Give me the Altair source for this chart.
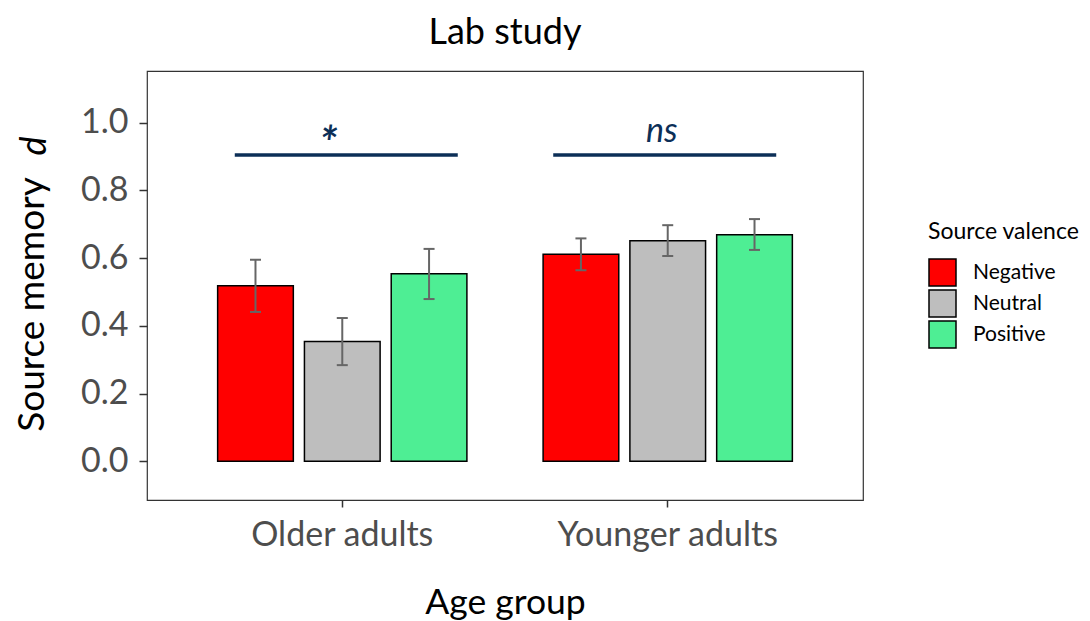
import altair as alt
import pandas as pd

FONT = "Lato"

# ---- data ----
groups = ["Older adults", "Older adults", "Older adults",
          "Younger adults", "Younger adults", "Younger adults"]
valences = ["Negative", "Neutral", "Positive", "Negative", "Neutral", "Positive"]
means = [0.518, 0.354, 0.554, 0.611, 0.651, 0.669]
lowers = [0.441, 0.284, 0.479, 0.564, 0.606, 0.624]
uppers = [0.595, 0.423, 0.627, 0.658, 0.697, 0.715]

group_order = ["Older adults", "Younger adults"]
valence_order = ["Negative", "Neutral", "Positive"]
valence_colors = ["#FF0000", "#BEBEBE", "#4EEE94"]

sig_groups = ["Older adults", "Younger adults"]
sig_labels = ["*", "ns"]
sig_line_y = [0.904, 0.904]
sig_text_y = [0.972, 0.972]

y_ticks = [0.0, 0.2, 0.4, 0.6, 0.8, 1.0]
y_domain = [-0.114, 1.152]
y_title_extra = ["d"]
chart_title = ["Lab study"]

NAVY = "#0C2F57"
ERR = "#666666"

df = pd.DataFrame({"group": groups, "valence": valences, "mean": means,
                   "lower": lowers, "upper": uppers})
sig_df = pd.DataFrame({"group": sig_groups, "label": sig_labels,
                       "line_y": sig_line_y, "text_y": sig_text_y})

X = alt.X("group:N",
          scale=alt.Scale(domain=group_order, paddingInner=0.2, paddingOuter=0.2),
          axis=alt.Axis(title="Age group", titleFontSize=35.5, titleFont=FONT,
                        titleFontWeight="normal", titleColor="black",
                        titleBaseline="alphabetic", titleY=113,
                        labelFontSize=34, labelFont=FONT, labelColor="#4D4D4D",
                        labelAngle=0, labelBaseline="alphabetic", labelPadding=38,
                        labelLimit=400,
                        tickSize=7, tickWidth=1.5, tickColor="#333333",
                        domain=False, grid=False))
XO = alt.XOffset("valence:N",
                 scale=alt.Scale(domain=valence_order, paddingInner=0.128, paddingOuter=0.064))
Y_SCALE = alt.Scale(domain=y_domain, nice=False, zero=False)

bars = alt.Chart(df).mark_bar(stroke="black", strokeWidth=1.5).encode(
    x=X,
    xOffset=XO,
    y=alt.Y("mean:Q", scale=Y_SCALE,
            axis=alt.Axis(values=y_ticks, format=".1f", title="Source memory",
                          titleFontSize=37, titleFont=FONT, titleFontWeight="normal",
                          titleColor="black", titleAngle=270, titleX=-104, titleY=233,
                          titleAlign="center", titleBaseline="alphabetic",
                          labelFontSize=34, labelFont=FONT, labelColor="#4D4D4D",
                          labelPadding=11, tickSize=8, tickWidth=1.5,
                          tickColor="#333333", domain=False, grid=False)),
    y2=alt.datum(0),
    color=alt.Color("valence:N",
                    scale=alt.Scale(domain=valence_order, range=valence_colors),
                    legend=alt.Legend(orient="none", legendX=781, legendY=150,
                                      title="Source valence", titleFontSize=23,
                                      titleFont=FONT, titleFontWeight="normal",
                                      titleColor="black", titlePadding=14,
                                      labelFontSize=21, labelFont=FONT,
                                      labelColor="black", labelOffset=16,
                                      symbolType="square", symbolSize=729,
                                      symbolStrokeColor="black", symbolStrokeWidth=1.5,
                                      symbolOpacity=1, rowPadding=-9, padding=0)),
)

err = alt.Chart(df).mark_rule(color=ERR, strokeWidth=2).encode(
    x=X, xOffset=XO, y=alt.Y("lower:Q", scale=Y_SCALE), y2="upper:Q")
cap_hi = alt.Chart(df).mark_tick(color=ERR, thickness=2, size=11, opacity=1,
                                 orient="horizontal").encode(
    x=X, xOffset=XO, y=alt.Y("upper:Q", scale=Y_SCALE))
cap_lo = alt.Chart(df).mark_tick(color=ERR, thickness=2, size=11, opacity=1,
                                 orient="horizontal").encode(
    x=X, xOffset=XO, y=alt.Y("lower:Q", scale=Y_SCALE))

layers = [bars, err, cap_hi, cap_lo]

line_dx = {"Older adults": 4, "Younger adults": -3}
text_dx = {"Older adults": -14, "Younger adults": -6}
text_dy = {"Older adults": 13, "Younger adults": 0}
text_size = {"Older adults": 46, "Younger adults": 34}
for g in sig_groups:
    base = alt.Chart(sig_df).transform_filter(alt.datum.group == g)
    layers.append(base.mark_tick(orient="horizontal", size=223, thickness=3.5,
                                 opacity=1, color=NAVY, xOffset=line_dx[g]).encode(
        x=X, y=alt.Y("line_y:Q", scale=Y_SCALE)))
    layers.append(base.mark_text(font=FONT, fontStyle="italic", fontSize=text_size[g],
                                 fontWeight="bold" if g == "Older adults" else "normal",
                                 color=NAVY, dx=text_dx[g], dy=text_dy[g],
                                 baseline="middle", align="center").encode(
        x=X, y=alt.Y("text_y:Q", scale=Y_SCALE), text="label:N"))

d_mark = alt.Chart(pd.DataFrame({"t": y_title_extra})).mark_text(
    font=FONT, fontStyle="italic", fontSize=36, angle=270, align="center",
    baseline="alphabetic", color="black").encode(
    x=alt.value(-101), y=alt.value(75), text="t:N")
layers.append(d_mark)

title_mark = alt.Chart(pd.DataFrame({"t": chart_title})).mark_text(
    font=FONT, fontSize=36, align="center", baseline="alphabetic",
    color="black").encode(x=alt.value(358), y=alt.value(-27), text="t:N")
layers.append(title_mark)

chart = alt.layer(*layers).properties(
    width=716, height=429,
    background="white",
    autosize=alt.AutoSizeParams(type="none"),
    padding={"left": 139, "top": 63, "right": 219, "bottom": 120},
).configure_view(stroke="#333333", strokeWidth=1.2)

chart.save("out.html", embed_options={"renderer": "svg", "actions": False})
